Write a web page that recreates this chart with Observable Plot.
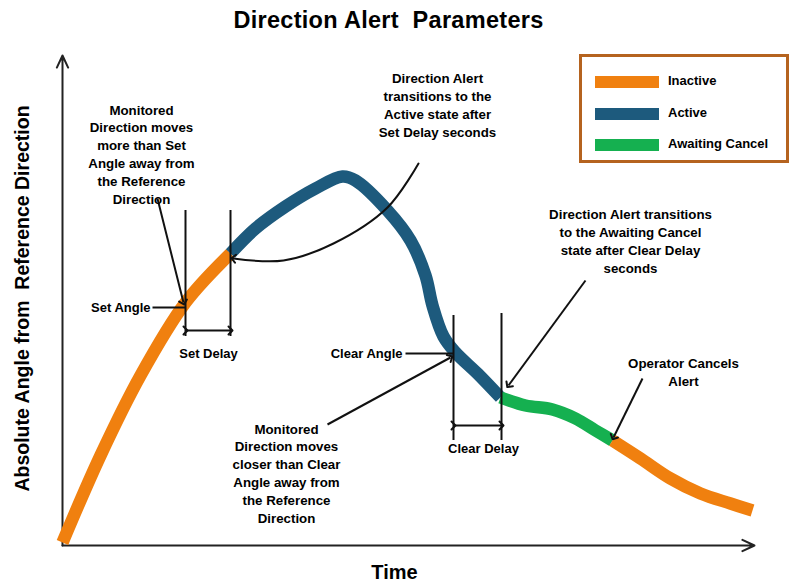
<!DOCTYPE html>
<html><head><meta charset="utf-8">
<script src="https://cdn.jsdelivr.net/npm/d3@7"></script>
<script src="https://cdn.jsdelivr.net/npm/@observablehq/plot@0.6"></script>
<style>
body{margin:0;background:#fff;font-family:"Liberation Sans",Arial,sans-serif;}
#wrap{position:relative;width:797px;height:582px;overflow:hidden;}
#title{position:absolute;left:0;top:0;width:777px;height:42px;line-height:40px;text-align:center;font-weight:bold;font-size:23.5px;letter-spacing:0.3px;color:#000;white-space:pre;}
#chart{position:absolute;left:0;top:42px;}
#legend{position:absolute;left:579px;top:54px;width:204px;height:103px;border:3px solid #b5631f;background:#fff;}
.row{position:absolute;left:13px;height:14px;}
.sw{position:absolute;left:0;top:1px;width:64px;height:12px;}
.lb{position:absolute;left:73px;top:-2px;font-weight:bold;font-size:13px;white-space:nowrap;color:#000;}
</style></head><body>
<div id="wrap"><div id="title">Direction Alert  Parameters</div><div id="chart"></div><div id="legend"></div></div>
<script>
// States and colours
const stateNames = ["Inactive", "Active", "Awaiting Cancel"];
const stateColors = ["#f0800f", "#1d5a7d", "#15b050"];

// Curve segments: [time, angle] (schematic units)
const inactiveRise = [[0,0.6],[7.6,18],[15.6,34],[24.6,48.6],[33.6,58.4]];
const activeSeg = [[33.6,58.4],[38.6,63.4],[44.6,67.8],[50.6,71.4],[56,73.8],[58.6,73],[65,67],[69.6,61],[72.6,54],[74,48],[76.2,41.8],[78.6,38.6],[83,34.4],[87.6,29.6]];
const awaitingSeg = [[87.6,29.6],[92.6,28],[98,27.2],[102.6,25.4],[106.6,23],[110,21]];
const inactiveTail = [[110,21],[115.6,17.4],[121.6,13.4],[127.6,10.4],[133.6,8.4],[138,7]];

// Vertical guide lines (Set Angle, Set Delay, Clear Angle, Clear Delay)
const guides = [
  {x:24.6, y1:41.8, y2:67},
  {x:33.6, y1:41.8, y2:67},
  {x:78.2, y1:21, y2:46},
  {x:87.8, y1:21, y2:46.4}
];
// Double-headed interval arrows
const intervals = [
  {x1:24.6, x2:33.6, y:43},
  {x1:78.2, x2:87.8, y:24}
];
// Leader lines for angle labels
const leaders = [
  {x1:18, x2:24.6, y:47.6},
  {x1:68.6, x2:78.2, y:38.4}
];
const guideLabels = [
  {x:17.6, y:47.6, text:"Set Angle", anchor:"end"},
  {x:68, y:38.4, text:"Clear Angle", anchor:"end"},
  {x:29.2, y:38.4, text:"Set Delay", anchor:"middle"},
  {x:84.2, y:19.4, text:"Clear Delay", anchor:"middle"}
];
// Callout arrows (straight)
const callouts = [
  {x1:19, y1:69.4, x2:24.2, y2:48.6},
  {x1:104.6, y1:53, x2:89.2, y2:32},
  {x1:53, y1:24.2, x2:77.6, y2:37.6},
  {x1:116, y1:33.4, x2:110.2, y2:21.6}
];
// Curved callout arrow
const curvedCallout = [[71.2,76.4],[65,67.6],[54.2,60.4],[44.2,57],[34.2,57.4]];
// Annotation texts
const notes = [
  {x:15.8, y:78.4, text:"Monitored\nDirection moves\nmore than Set\nAngle away from\nthe Reference\nDirection"},
  {x:75, y:88.2, text:"Direction Alert\ntransitions to the\nActive state after\nSet Delay seconds"},
  {x:113.6, y:61, text:"Direction Alert transitions\nto the Awaiting Cancel\nstate after Clear Delay\nseconds"},
  {x:44.8, y:14.6, text:"Monitored\nDirection moves\ncloser than Clear\nAngle away from\nthe Reference\nDirection"},
  {x:124.2, y:34.8, text:"Operator Cancels\nAlert"}
];
const axesArrows = [
  {x1:0, y1:0, x2:0, y2:98},
  {x1:0, y1:0, x2:138.4, y2:0}
];
const axisTitles = [
  {x:66.4, y:-5.4, text:"Time", rotate:0},
  {x:-8, y:49.4, text:"Absolute Angle from  Reference Direction", rotate:-90}
];

const X = d => d[0], Y = d => d[1];
const segs = [inactiveRise, activeSeg, awaitingSeg, inactiveTail];
const segColor = [stateColors[0], stateColors[1], stateColors[2], stateColors[0]];
const ink = "#111";

const chart = Plot.plot({
  width: 797, height: 540, margin: 0,
  style: {fontFamily: "Liberation Sans, Arial, sans-serif", background: "#fff", overflow: "visible"},
  x: {type: "linear", domain: [0, 138], range: [62, 752], axis: null},
  y: {type: "linear", domain: [0, 98], range: [503, 13], axis: null},
  marks: [
    Plot.arrow(axesArrows, {x1:"x1", y1:"y1", x2:"x2", y2:"y2", stroke:"#222", strokeWidth:2, headLength:10, headAngle:50}),
    ...segs.map((s, i) => Plot.line(s, {x: X, y: Y, stroke: segColor[i], strokeWidth: 12.5, curve: "catmull-rom", strokeLinecap: "butt", strokeLinejoin: "round"})),
    Plot.ruleX(guides, {x:"x", y1:"y1", y2:"y2", stroke: ink, strokeWidth: 2}),
    Plot.link(intervals, {x1:"x1", x2:"x2", y1:"y", y2:"y", stroke: ink, strokeWidth: 2, markerStart:"arrow", markerEnd:"arrow"}),
    Plot.link(leaders, {x1:"x1", x2:"x2", y1:"y", y2:"y", stroke: ink, strokeWidth: 2}),
    Plot.link(callouts, {x1:"x1", y1:"y1", x2:"x2", y2:"y2", stroke: ink, strokeWidth: 2, markerEnd:"arrow"}),
    Plot.line(curvedCallout, {x: X, y: Y, curve: "catmull-rom", stroke: ink, strokeWidth: 2, markerEnd: "arrow"}),
    Plot.text(guideLabels.filter(d => d.anchor === "end"), {x:"x", y:"y", text:"text", textAnchor:"end", fontSize:13, fontWeight:"bold", fill:"#000"}),
    Plot.text(guideLabels.filter(d => d.anchor === "middle"), {x:"x", y:"y", text:"text", fontSize:13, fontWeight:"bold", fill:"#000"}),
    Plot.text(notes, {x:"x", y:"y", text:"text", fontSize:13.3, fontWeight:"bold", lineHeight:1.34, fill:"#000"}),
    Plot.text(axisTitles.filter(d => d.rotate === 0), {x:"x", y:"y", text:"text", fontSize:20, fontWeight:"bold", fill:"#000"}),
    Plot.text(axisTitles.filter(d => d.rotate !== 0), {x:"x", y:"y", text:"text", rotate:-90, fontSize:19.5, fontWeight:"bold", fill:"#000"})
  ]
});
document.getElementById("chart").appendChild(chart);

// Legend
const legendRowTops = [18, 50, 81];
const lg = document.getElementById("legend");
stateNames.forEach((n, i) => {
  const r = document.createElement("div");
  r.className = "row";
  r.style.top = legendRowTops[i] + "px";
  r.innerHTML = `<div class="sw" style="background:${stateColors[i]}"></div><div class="lb">${n}</div>`;
  lg.appendChild(r);
});
</script>
</body></html>
